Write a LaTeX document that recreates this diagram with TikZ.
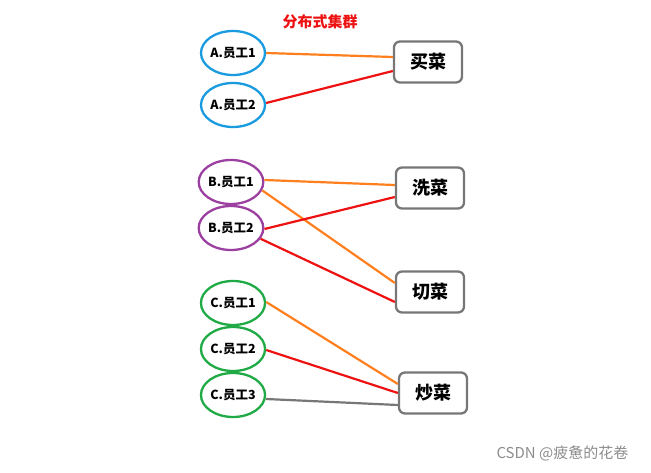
\documentclass[tikz,border=0pt]{standalone}
\usepackage{fontspec}
\setmainfont{Noto Sans CJK SC}
\usetikzlibrary{shapes.geometric,calc}
\definecolor{cblue}{HTML}{1A9BE0}
\definecolor{cpurple}{HTML}{9B3FA0}
\definecolor{cgreen}{HTML}{1FAA45}
\definecolor{corange}{HTML}{FF7F1F}
\definecolor{cred}{HTML}{EE1111}
\definecolor{cgray}{HTML}{777777}
\tikzset{
  worker/.style={ellipse,draw=#1,line width=2.3pt,minimum width=64pt,minimum height=44pt,inner sep=0pt,font=\bfseries\fontsize{12.5}{12.5}\selectfont},
  task/.style={rectangle,rounded corners=6pt,draw=cgray,line width=2.3pt,minimum width=68pt,minimum height=41pt,font=\bfseries\fontsize{18}{18}\selectfont},
  link/.style={draw=#1,line width=2.2pt}
}
\begin{document}
\begin{tikzpicture}[x=1pt,y=-1pt]
\useasboundingbox (0,0) rectangle (651,473);
\node[text=cred,font=\bfseries\fontsize{15}{15}\selectfont] (title) at (320,22) {分布式集群};
\node[worker=cblue] (a1) at (233,53) {A.员工1};
\node[worker=cblue] (a2) at (233,105) {A.员工2};
\node[worker=cpurple] (b1) at (231,182) {B.员工1};
\node[worker=cpurple] (b2) at (231,228) {B.员工2};
\node[worker=cgreen] (c1) at (233,303) {C.员工1};
\node[worker=cgreen] (c2) at (233,349) {C.员工2};
\node[worker=cgreen] (c3) at (233,395) {C.员工3};
\node[task] (buy) at (428,62) {买菜};
\node[task] (wash) at (430,188) {洗菜};
\node[task] (cut) at (430,292) {切菜};
\node[task] (fry) at (433,393) {炒菜};
\draw[link=corange] (a1.east) -- ($(buy.west)+(0,-5)$);
\draw[link=cred] ($(a2.east)+(0,-2)$) -- ($(buy.west)+(0,9)$);
\draw[link=corange] ($(b1.east)+(0,-2)$) -- ($(wash.west)+(0,-3)$);
\draw[link=corange] (b1.-15) -- ($(cut.west)+(0,-9)$);
\draw[link=cred] ($(b2.east)+(0,1)$) -- ($(wash.west)+(0,9)$);
\draw[link=cred] (b2.-20) -- ($(cut.west)+(0,10)$);
\draw[link=corange] ($(c1.east)+(0,-1)$) -- ($(fry.west)+(0,-9)$);
\draw[link=cred] ($(c2.east)+(0,1)$) -- ($(fry.west)+(0,0)$);
\draw[link=cgray] ($(c3.east)+(0,4)$) -- ($(fry.west)+(0,12)$);
\node[text=black!45,font=\fontsize{15}{15}\selectfont,anchor=west] (wm) at (493,453) {CSDN @疲惫的花卷};
\end{tikzpicture}
\end{document}
